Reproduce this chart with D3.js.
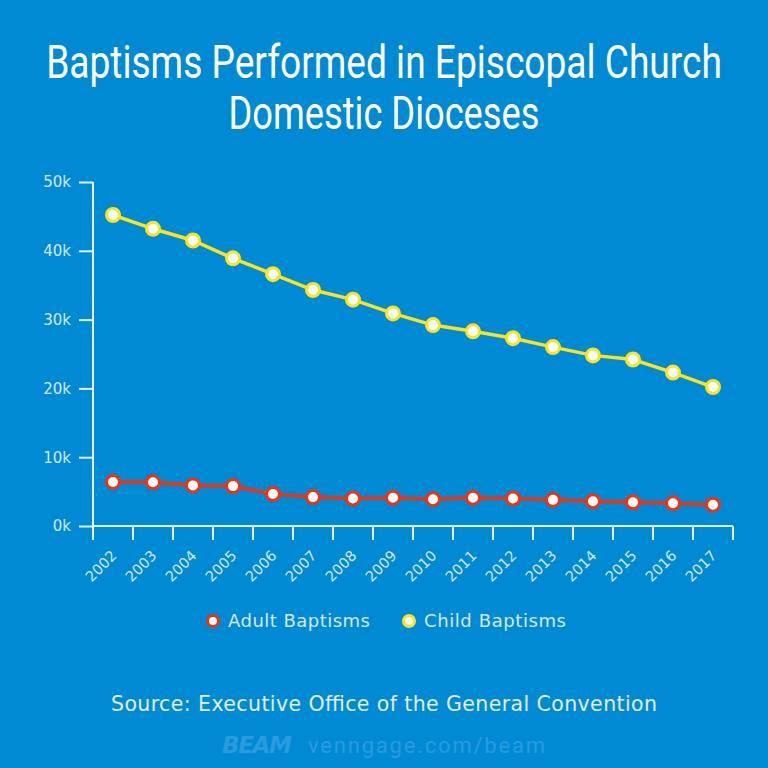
<!DOCTYPE html>
<html>
<head>
<meta charset="utf-8">
<script src="https://cdn.jsdelivr.net/npm/d3@7"></script>
<style>
  html, body { margin: 0; padding: 0; background: #018ad4; }
  svg { display: block; }
</style>
</head>
<body>
<svg id="chart" width="768" height="768"></svg>
<script>
const years = ["2002","2003","2004","2005","2006","2007","2008","2009","2010","2011","2012","2013","2014","2015","2016","2017"];
const adultBaptisms = [6400, 6350, 5900, 5800, 4650, 4200, 4000, 4100, 3900, 4100, 4000, 3800, 3600, 3450, 3300, 3100];
const childBaptisms = [45200, 43200, 41500, 38900, 36600, 34300, 32900, 30900, 29200, 28300, 27300, 26000, 24800, 24200, 22300, 20200];
const yTicks = [0, 10000, 20000, 30000, 40000, 50000];
const titleLines = ["Baptisms Performed in Episcopal Church", "Domestic Dioceses"];
const seriesNames = ["Adult Baptisms", "Child Baptisms"];

const BG = "#018ad4";
const RED = "#ee3312";
const YELLOW = "#fde31b";
const AXIS = "#e6eef6";
const LABEL = "#d6e8f6";
const FONT = "'DejaVu Sans', 'Open Sans', sans-serif";

const svg = d3.select("#chart");
svg.append("rect").attr("width", 768).attr("height", 768).attr("fill", BG);

// Title (condensed look via horizontal scaling)
const titleWidths = [676, 311];
titleLines.forEach((t, i) => {
  const g = svg.append("g");
  const txt = g.append("text")
    .attr("x", 0).attr("y", 0)
    .attr("text-anchor", "middle")
    .attr("fill", "#ffffff")
    .style("font-family", "'Roboto', sans-serif")
    .style("font-size", "47px")
    .text(t);
  const w = txt.node().getComputedTextLength();
  const sx = titleWidths[i] / w;
  g.attr("transform", `translate(384,${78 + i * 51}) scale(${sx},1)`);
});

const x = d3.scaleBand().domain(years).range([93, 733]);
const y = d3.scaleLinear().domain([0, 50000]).range([526, 182]);

// Y axis
const yAxis = d3.axisLeft(y).tickValues(yTicks).tickSize(14).tickPadding(8)
  .tickFormat(d => (d / 1000) + "k");
const gy = svg.append("g").attr("transform", "translate(93,0)").call(yAxis);
gy.select(".domain").attr("stroke", AXIS).attr("stroke-width", 2).attr("d", "M0,182V526");
gy.selectAll(".tick line").attr("stroke", AXIS).attr("stroke-width", 2);
gy.selectAll(".tick text").attr("fill", LABEL)
  .style("font-family", FONT).style("font-size", "15px");

// X axis (ticks at band edges)
const gx = svg.append("g").attr("transform", "translate(0,526)");
gx.append("line").attr("x1", 93).attr("x2", 733).attr("y1", 0).attr("y2", 0)
  .attr("stroke", AXIS).attr("stroke-width", 2);
const edges = years.map(d => x(d)).concat([x.range()[1]]);
gx.selectAll("line.tk").data(edges).enter().append("line").attr("class", "tk")
  .attr("x1", d => d).attr("x2", d => d).attr("y1", 0).attr("y2", 14)
  .attr("stroke", AXIS).attr("stroke-width", 2);
gx.selectAll("text.lbl").data(years).enter().append("text").attr("class", "lbl")
  .attr("transform", d => `translate(${x(d) + x.bandwidth() / 2 + 1},${27}) rotate(-45)`)
  .attr("text-anchor", "end")
  .attr("dy", "0.35em")
  .attr("fill", LABEL)
  .style("font-family", FONT).style("font-size", "14.5px")
  .text(d => d);

// Lines
const line = d3.line().x((d, i) => x(years[i]) + x.bandwidth() / 2).y(d => y(d));
const series = [
  { name: seriesNames[0], values: adultBaptisms, color: RED },
  { name: seriesNames[1], values: childBaptisms, color: YELLOW }
];
series.forEach(s => {
  svg.append("path").datum(s.values).attr("d", line)
    .attr("fill", "none").attr("stroke", s.color).attr("stroke-width", 3.5);
  svg.append("g").selectAll("circle").data(s.values).enter().append("circle")
    .attr("cx", (d, i) => x(years[i]) + x.bandwidth() / 2)
    .attr("cy", d => y(d))
    .attr("r", 6.5)
    .attr("fill", "#ffffff").attr("stroke", s.color).attr("stroke-width", 3);
});

// Legend
const legendItems = [
  { name: seriesNames[0], color: RED, cx: 213 },
  { name: seriesNames[1], color: YELLOW, cx: 409 }
];
legendItems.forEach(l => {
  svg.append("circle").attr("cx", l.cx).attr("cy", 621).attr("r", 5.5)
    .attr("fill", "#ffffff").attr("stroke", l.color).attr("stroke-width", 3);
  svg.append("text").attr("x", l.cx + 15).attr("y", 627).attr("fill", LABEL)
    .attr("textLength", 142)
    .style("font-family", FONT).style("font-size", "18px")
    .text(l.name);
});

// Source
svg.append("text").attr("x", 384).attr("y", 711).attr("text-anchor", "middle")
  .attr("fill", "#e2eef8")
  .attr("textLength", 546)
  .style("font-family", FONT).style("font-size", "20.5px")
  .text("Source: Executive Office of the General Convention");

// Watermark
svg.append("text").attr("x", 222).attr("y", 753).attr("fill", "#2b9be0")
  .attr("textLength", 70)
  .style("font-family", "'DejaVu Sans', sans-serif").style("font-weight", "bold")
  .style("font-style", "italic").style("font-size", "23px")
  .text("BEAM");
svg.append("text").attr("x", 308).attr("y", 753).attr("fill", "#2b9be0")
  .attr("textLength", 237)
  .style("font-family", "'Roboto', sans-serif").style("font-size", "22px")
  .text("venngage.com/beam");
</script>
</body>
</html>
